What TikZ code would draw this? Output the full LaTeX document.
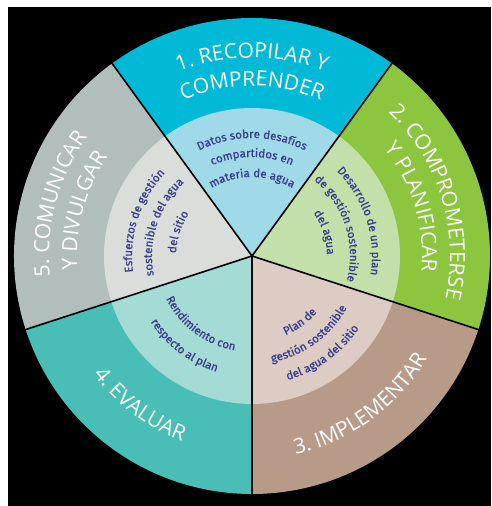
\documentclass[tikz,border=0pt]{standalone}
\usepackage{fontspec}
\usetikzlibrary{decorations.text}
\newfontfamily\outerfont{Open Sans}
\newfontfamily\innerfont{Fira Sans}[FakeBold=0.7]
\definecolor{cAout}{HTML}{00B9D7}
\definecolor{cAin}{HTML}{A0DAE8}
\definecolor{cBout}{HTML}{8CC63F}
\definecolor{cBin}{HTML}{C4E0AA}
\definecolor{cCout}{HTML}{B89A89}
\definecolor{cCin}{HTML}{DCCCC4}
\definecolor{cDout}{HTML}{49BEB6}
\definecolor{cDin}{HTML}{A5DBD5}
\definecolor{cEout}{HTML}{B2BEBC}
\definecolor{cEin}{HTML}{D9DEDB}
\definecolor{innertext}{HTML}{373C8C}
\newcommand\outerfmt{\outerfont\fontsize{21}{21}\selectfont\color{white}}
\newcommand\innerfmt{\innerfont\fontsize{11.5}{11.5}\selectfont\color{innertext}}
% clockwise arc text (tops outward): radius, centre angle, text
\newcommand\cwtext[3]{%
  \path[decorate,decoration={text along path,text align=center,text={#3}}]
    (C) ++({#2+80}:#1) arc[start angle={#2+80}, end angle={#2-80}, radius=#1];}
% counter-clockwise arc text (tops inward)
\newcommand\ccwtext[3]{%
  \path[decorate,decoration={text along path,text align=center,text={#3}}]
    (C) ++({#2-80}:#1) arc[start angle={#2-80}, end angle={#2+80}, radius=#1];}
\begin{document}
\begin{tikzpicture}[x=1pt,y=1pt]
\useasboundingbox (0,0) rectangle (491,506);
\fill[white] (0,0) rectangle (491,506);
\fill[black] (8,0) rectangle (491,499);
\coordinate (C) at (252,250);
\def\Ro{238}
\def\Ri{148}
% sectors: start angle, outer colour, inner colour
\foreach \a/\co/\ci in {54/cAout/cAin, -18/cBout/cBin, -90/cCout/cCin, 198/cDout/cDin, 126/cEout/cEin}{
  \fill[\co] (C) -- ++(\a:\Ro) arc[start angle=\a, end angle=\a+72, radius=\Ro] -- cycle;
  \fill[\ci] (C) -- ++(\a:\Ri) arc[start angle=\a, end angle=\a+72, radius=\Ri] -- cycle;
}
\foreach \a in {54,126,198,270,342}{
  \draw[black,line width=1.6pt] (C) -- ++(\a:\Ro+1);
}
% sector 1
\cwtext{198}{90}{|\outerfmt|1. RECOPILAR Y}
\cwtext{170}{90}{|\outerfmt|COMPRENDER}
\cwtext{118}{90}{|\innerfmt|Datos sobre desafíos}
\cwtext{99}{90}{|\innerfmt|compartidos en}
\cwtext{79}{90}{|\innerfmt|materia de agua}
% sector 2
\cwtext{198}{17}{|\outerfmt|2. COMPROMETERSE}
\cwtext{170}{17}{|\outerfmt|Y PLANIFICAR}
\cwtext{120}{18}{|\innerfmt|Desarrollo de un plan}
\cwtext{98}{18}{|\innerfmt|de gestión sostenible}
\cwtext{75}{18}{|\innerfmt|del agua}
% sector 3
\ccwtext{203}{-54}{|\outerfmt|3. IMPLEMENTAR}
\ccwtext{86}{-54}{|\innerfmt|Plan de}
\ccwtext{108}{-54}{|\innerfmt|gestión sostenible}
\ccwtext{129}{-54}{|\innerfmt|del agua del sitio}
% sector 4
\ccwtext{198}{233}{|\outerfmt|4. EVALUAR}
\ccwtext{96}{233}{|\innerfmt|Rendimiento con}
\ccwtext{121}{233}{|\innerfmt|respecto al plan}
% sector 5
\cwtext{203}{165}{|\outerfmt|5. COMUNICAR}
\cwtext{175}{165}{|\outerfmt|Y DIVULGAR}
\cwtext{120}{162}{|\innerfmt|Esfuerzos de gestión}
\cwtext{100}{162}{|\innerfmt|sostenible del agua}
\cwtext{76}{162}{|\innerfmt|del sitio}
\end{tikzpicture}
\end{document}
